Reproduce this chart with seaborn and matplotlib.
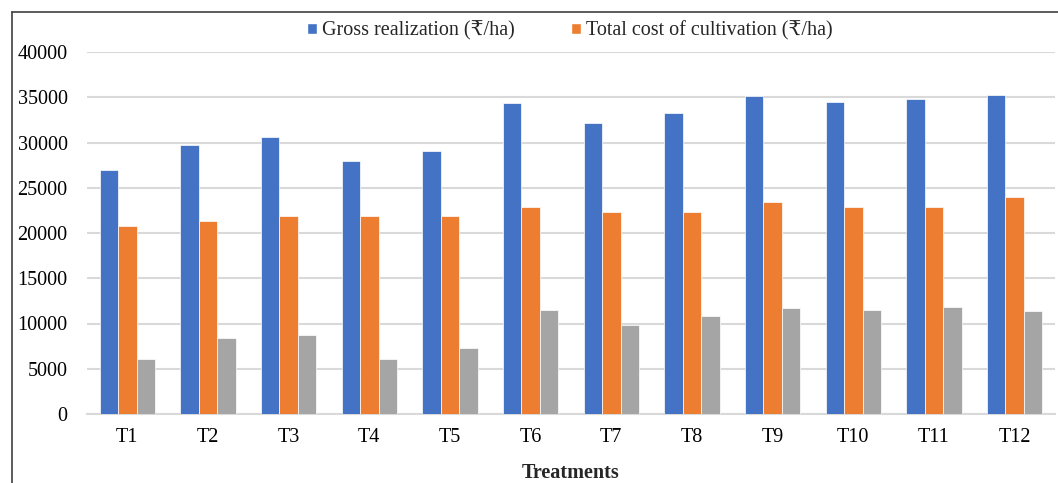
import matplotlib
matplotlib.use("Agg")
import matplotlib.pyplot as plt
from matplotlib.lines import Line2D
from matplotlib.patches import Patch
import seaborn as sns
import pandas as pd

treatments = ["T1", "T2", "T3", "T4", "T5", "T6", "T7", "T8", "T9", "T10", "T11", "T12"]
gross_realization = [26930, 29720, 30610, 27960, 29100, 34370, 32190, 33220, 35100, 34480, 34770, 35280]
total_cost = [20810, 21330, 21840, 21840, 21840, 22870, 22360, 22360, 23390, 22870, 22870, 23940]
net_returns = [6110, 8400, 8690, 6110, 7290, 11490, 9830, 10870, 11670, 11490, 11780, 11380]
series_names = ["Gross realization (₹/ha)", "Total cost of cultivation (₹/ha)", "Net returns (₹/ha)"]
colors = ["#4472C4", "#ED7D31", "#A5A5A5"]
yticks = [0, 5000, 10000, 15000, 20000, 25000, 30000, 35000, 40000]

rows = []
for name, vals in zip(series_names, [gross_realization, total_cost, net_returns]):
    for t, v in zip(treatments, vals):
        rows.append({"Treatment": t, "Series": name, "Value": v})
df = pd.DataFrame(rows)

sns.set_theme(style="white")
fam = ["Liberation Serif", "DejaVu Serif", "DejaVu Sans"]
plt.rcParams["font.family"] = fam

fig = plt.figure(figsize=(10.58, 4.83), dpi=100)
ax = fig.add_axes([87 / 1058, 1 - 414 / 483, (1055 - 87) / 1058, (414 - 52) / 483])

sns.barplot(data=df, x="Treatment", y="Value", hue="Series", hue_order=series_names,
            order=treatments, palette=colors, saturation=1, width=0.69,
            edgecolor="white", linewidth=0.5, legend=False, ax=ax, zorder=3)

ax.set_ylim(0, 40000)
ax.set_xlim(-0.5, len(treatments) - 0.5)
ax.set_yticks(yticks)
ax.set_yticklabels([str(v) for v in yticks])
ax.yaxis.grid(True, color="#D9D9D9", linewidth=1.5, zorder=0)
ax.set_axisbelow(True)
for s in ["top", "right", "left"]:
    ax.spines[s].set_visible(False)
ax.spines["bottom"].set_color("#D9D9D9")
ax.spines["bottom"].set_linewidth(1.5)
ax.tick_params(axis="both", length=0, labelsize=14.5, colors="black")
ax.tick_params(axis="y", pad=14)
ax.tick_params(axis="x", pad=10)
for lbl in ax.get_yticklabels():
    lbl.set_clip_on(False)
ax.set_ylabel("")
ax.set_xlabel("Treatments", fontsize=14.5, fontweight="bold", labelpad=11.5)

handles = [Patch(facecolor=colors[0]), Patch(facecolor=colors[1])]
fig.legend(handles, series_names[:2], loc="center", bbox_to_anchor=(570 / 1058, 1 - 31 / 483),
           ncol=2, frameon=False, fontsize=14.5, handlelength=0.5, handleheight=0.5,
           handletextpad=0.25, columnspacing=2.8)

fig.add_artist(Line2D([12 / 1058, 12 / 1058], [0, 1 - 12 / 483], transform=fig.transFigure,
                      color="#404040", linewidth=1.2))
fig.add_artist(Line2D([12 / 1058, 1], [1 - 12 / 483, 1 - 12 / 483], transform=fig.transFigure,
                      color="#404040", linewidth=1.2))

fig.savefig("out.png", dpi=100)
